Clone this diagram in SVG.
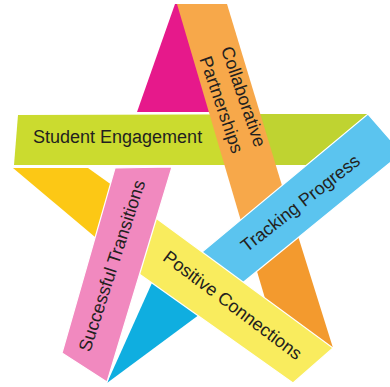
<svg xmlns="http://www.w3.org/2000/svg" width="390" height="387" viewBox="0 0 390 387">
<style>
.lbl{font-family:"Liberation Sans",Arial,sans-serif;font-size:18px;fill:#231F20;text-anchor:middle}
.edge{stroke:#fff;stroke-width:1.2;stroke-linejoin:miter}
</style>
<rect width="390" height="387" fill="#fff"/>
<g id="fold-magenta"><polygon points="175,4 137,112 215,112 180,4" fill="#E6198B"/></g>
<g id="student-engagement">
<polygon points="18,115 368,114 306,165 14,165" fill="#CBDB2F"/>
<polygon points="255,114 368,114 306,165 255,165" fill="#BFD331"/>
<text class="lbl" x="33" y="143" style="text-anchor:start">Student Engagement</text>
</g>
<g id="collaborative-partnerships">
<polygon points="177,4 227,4 300,245 256,272" fill="#F7A84A"/>
<polygon points="256,268 298,236 333,348 267,305" fill="#F39A2E"/>
<g transform="translate(242.5,97) rotate(71)"><text class="lbl" x="0" y="5">Collaborative</text></g>
<g transform="translate(220.5,105) rotate(71)"><text class="lbl" x="0" y="5">Partnerships</text></g>
</g>
<g id="tracking-progress">
<polygon class="edge" points="368,114 402,153 240,285 190,262" fill="#5BC4EF"/>
<g transform="translate(301,204) rotate(-38)"><text class="lbl" x="0" y="5">Tracking Progress</text></g>
</g>
<g id="fold-blue"><polygon points="156,274 107,383 215,303" fill="#0FAEE0"/></g>
<g id="fold-gold"><polygon points="13,168 88,168 130,198 120,250 95,237" fill="#FCC815"/></g>
<g id="positive-connections">
<polygon class="edge" points="130,199 333,348 293,383 152,283 125,264" fill="#F9EC5E"/>
<g transform="translate(232,306) rotate(37)"><text class="lbl" x="0" y="5">Positive Connections</text></g>
</g>
<g id="successful-transitions">
<polygon class="edge" points="115,168 172,167 107,382 62,353" fill="#F189BF"/>
<g transform="translate(113,266) rotate(-72)"><text class="lbl" x="0" y="5">Successful Transitions</text></g>
</g>
</svg>
